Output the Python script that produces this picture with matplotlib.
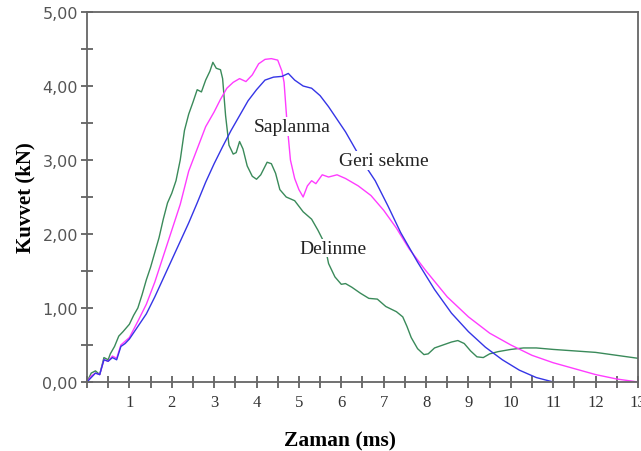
import numpy as np
import matplotlib.pyplot as plt
from matplotlib.ticker import MultipleLocator, FixedLocator

# Delinme (green)
t_del = [0, 0.1, 0.2, 0.3, 0.4, 0.5, 0.55, 0.65, 0.75, 0.85, 1.0, 1.1, 1.2, 1.3, 1.4, 1.5,
         1.6, 1.7, 1.8, 1.9, 2.0, 2.1, 2.2, 2.3, 2.4, 2.5, 2.6, 2.7, 2.8, 2.9, 2.97, 3.05,
         3.15, 3.2, 3.27, 3.35, 3.45, 3.52, 3.6, 3.68, 3.78, 3.9, 4.0, 4.1, 4.25, 4.35, 4.45,
         4.55, 4.7, 4.9, 5.1, 5.3, 5.45, 5.6, 5.7, 5.85, 6.0, 6.1, 6.25, 6.45, 6.65, 6.85,
         7.05, 7.3, 7.45, 7.55, 7.65, 7.8, 7.95, 8.05, 8.2, 8.4, 8.6, 8.75, 8.9, 9.05, 9.2,
         9.35, 9.5, 9.7, 10.0, 10.3, 10.6, 11.0, 11.5, 12.0, 12.5, 13.0]
f_del = [0.0, 0.12, 0.15, 0.1, 0.33, 0.3, 0.38, 0.48, 0.62, 0.68, 0.78, 0.9, 1.0, 1.18, 1.38, 1.55,
         1.75, 1.95, 2.2, 2.42, 2.55, 2.72, 3.0, 3.4, 3.62, 3.78, 3.95, 3.92, 4.08, 4.2, 4.32, 4.24,
         4.22, 4.1, 3.6, 3.2, 3.08, 3.1, 3.25, 3.15, 2.92, 2.78, 2.74, 2.8, 2.97, 2.95, 2.82,
         2.6, 2.5, 2.45, 2.3, 2.2, 2.05, 1.88, 1.6, 1.42, 1.32, 1.33, 1.28, 1.2, 1.13, 1.12,
         1.02, 0.95, 0.88, 0.75, 0.6, 0.45, 0.37, 0.38, 0.46, 0.5, 0.54, 0.56, 0.52, 0.42, 0.34,
         0.33, 0.38, 0.41, 0.44, 0.46, 0.46, 0.44, 0.42, 0.4, 0.36, 0.32]

# Geri sekme (magenta)
t_geri = [0, 0.1, 0.2, 0.3, 0.4, 0.5, 0.6, 0.7, 0.8, 0.9, 1.0, 1.2, 1.4, 1.6, 1.8, 2.0, 2.2,
          2.4, 2.6, 2.8, 3.0, 3.15, 3.3, 3.45, 3.6, 3.75, 3.9, 4.05, 4.2, 4.35, 4.5, 4.6, 4.65,
          4.72, 4.8, 4.9, 5.0, 5.1, 5.2, 5.3, 5.4, 5.55, 5.7, 5.9, 6.1, 6.4, 6.7, 7.0, 7.3,
          7.6, 8.0, 8.5, 9.0, 9.5, 10.0, 10.5, 11.0, 11.5, 12.0, 12.5, 13.0]
f_geri = [0.0, 0.08, 0.12, 0.1, 0.3, 0.28, 0.35, 0.32, 0.5, 0.55, 0.6, 0.82, 1.05, 1.35, 1.7, 2.05, 2.4,
          2.85, 3.15, 3.45, 3.65, 3.82, 3.97, 4.05, 4.1, 4.06, 4.15, 4.3, 4.36, 4.37, 4.35, 4.2, 4.05,
          3.5, 3.0, 2.75, 2.6, 2.5, 2.65, 2.72, 2.68, 2.8, 2.77, 2.8, 2.75, 2.65, 2.52, 2.32, 2.08,
          1.8, 1.5, 1.15, 0.88, 0.66, 0.5, 0.36, 0.26, 0.18, 0.1, 0.04, 0.0]

# Saplanma (blue)
t_sap = [0, 0.1, 0.2, 0.3, 0.4, 0.5, 0.6, 0.7, 0.8, 0.9, 1.0, 1.2, 1.4, 1.6, 1.8, 2.0, 2.2,
         2.4, 2.6, 2.8, 3.0, 3.2, 3.4, 3.6, 3.8, 4.0, 4.2, 4.4, 4.6, 4.75, 4.9, 5.1, 5.3, 5.5,
         5.7, 5.9, 6.1, 6.3, 6.5, 6.8, 7.1, 7.4, 7.8, 8.2, 8.6, 9.0, 9.4, 9.8, 10.2, 10.6, 11.0]
f_sap = [0.0, 0.06, 0.12, 0.1, 0.3, 0.28, 0.33, 0.3, 0.48, 0.52, 0.58, 0.75, 0.92, 1.15, 1.4, 1.65, 1.9,
         2.15, 2.42, 2.7, 2.95, 3.18, 3.4, 3.6, 3.8, 3.95, 4.08, 4.12, 4.13, 4.17, 4.08, 4.0, 3.97, 3.87,
         3.72, 3.55, 3.38, 3.18, 2.98, 2.72, 2.38, 2.02, 1.62, 1.25, 0.93, 0.68, 0.47, 0.3, 0.16, 0.06, 0.0]

labels = ["Saplanma", "Geri sekme", "Delinme"]
label_pos = [(4.83, 3.45), (7.0, 2.99), (5.8, 1.81)]

fig = plt.figure(figsize=(6.41, 4.52), dpi=100)
ax = fig.add_axes([0.1357, 0.1527, 0.8596, 0.8185])

ax.plot(t_del, f_del, color='#3a8a5a', lw=1.0)
ax.plot(t_geri, f_geri, color='#ff3cff', lw=1.0)
ax.plot(t_sap, f_sap, color='#3535e6', lw=1.0)

for txt, (x, y) in zip(labels, label_pos):
    ax.text(x, y, txt, family='Liberation Serif', fontsize=14, color='#222222',
            ha='center', va='center',
            bbox=dict(facecolor='white', edgecolor='none', pad=0.5))

ax.set_xlim(0, 13)
ax.set_ylim(0, 5)

ax.xaxis.set_major_locator(FixedLocator(range(1, 14)))
ax.xaxis.set_minor_locator(MultipleLocator(0.5))
ax.yaxis.set_major_locator(MultipleLocator(1))
ax.yaxis.set_minor_locator(MultipleLocator(0.5))
ax.set_yticklabels([f"{v:.2f}".replace('.', ',') for v in ax.get_yticks()])

ax.tick_params(which='both', direction='inout', length=9, width=1.2, color='#555555')
ax.tick_params(axis='y', labelsize=11.5, labelcolor='#555555', pad=2)
ax.tick_params(axis='x', labelsize=12, labelcolor='#333333', pad=4)
for lab in ax.get_yticklabels():
    lab.set_family('DejaVu Sans')
for lab in ax.get_xticklabels():
    lab.set_family('Liberation Serif')

for s in ax.spines.values():
    s.set_color('#666666')
    s.set_linewidth(1.3)

ax.set_xlabel('Zaman (ms)', family='Liberation Serif', fontweight='bold', fontsize=15.5)
ax.set_ylabel('Kuvvet (kN)', family='Liberation Serif', fontweight='bold', fontsize=15)
ax.xaxis.set_label_coords(0.459, -0.13)
ax.yaxis.set_label_coords(-0.094, 0.5)

fig.savefig('out.png', dpi=100)
